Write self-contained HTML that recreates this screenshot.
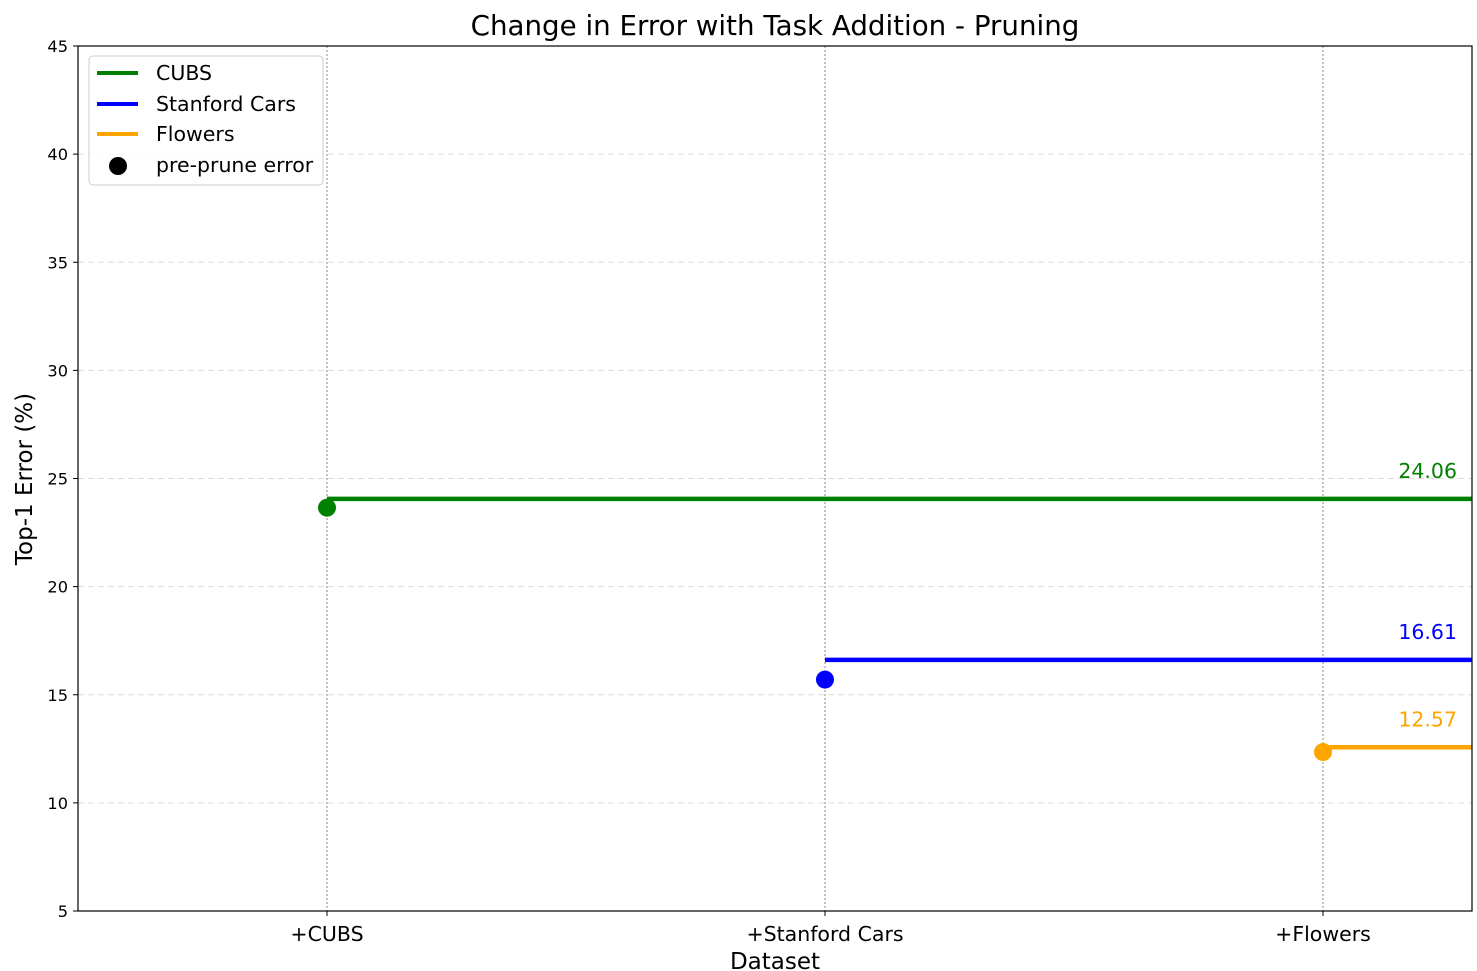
<!DOCTYPE html>
<html><head><meta charset="utf-8"><style>
body{margin:0;background:#fff}
svg{display:block;font-family:"DejaVu Sans","Liberation Sans",sans-serif}
</style></head><body>
<svg id="chart" width="1477" height="971">
<g id="grid"></g>
<g id="marks"></g>
<g id="axes"></g>
<text x="775" y="35" font-size="27.7" text-anchor="middle">Change in Error with Task Addition - Pruning</text>
<text x="775" y="969" font-size="23" text-anchor="middle">Dataset</text>
<text transform="translate(32,479) rotate(-90)" font-size="23" text-anchor="middle">Top-1 Error (%)</text>
<g>
<rect x="89" y="56" width="234" height="129" rx="4" fill="#fff" fill-opacity="0.8" stroke="#ccc"/>
<g><line x1="97" y1="73" x2="138" y2="73" stroke="green" stroke-width="4"/><text x="156" y="80" font-size="20.5">CUBS</text></g>
<g><line x1="97" y1="104" x2="138" y2="104" stroke="blue" stroke-width="4"/><text x="156" y="111" font-size="20.5">Stanford Cars</text></g>
<g><line x1="97" y1="134" x2="138" y2="134" stroke="orange" stroke-width="4"/><text x="156" y="141" font-size="20.5">Flowers</text></g>
<g><circle cx="118" cy="166" r="9" fill="#000"/><text x="156" y="172" font-size="20.5">pre-prune error</text></g>
</g>
</svg>
<script>
const categories=["+CUBS","+Stanford Cars","+Flowers"];
const finalErrors=[24.06,16.61,12.57];
const preErrors=[23.65,15.7,12.35];
const colors=["green","blue","orange"];
const yTicks=[5,10,15,20,25,30,35,40,45];
const L=78,R=1472,T=46,B=911;
const xS=i=>327+i*498;
const yS=v=>B-(v-5)*(B-T)/40;
const NS="http://www.w3.org/2000/svg";
function mk(p,t,a){const e=document.createElementNS(NS,t);for(const k in a)e.setAttribute(k,a[k]);p.appendChild(e);return e;}
const grid=document.getElementById('grid'),marks=document.getElementById('marks'),axes=document.getElementById('axes');
yTicks.forEach(v=>{
 const g=mk(grid,'line',{x1:L,x2:R,y1:yS(v),y2:yS(v),stroke:'#ddd','stroke-dasharray':'6,4','stroke-width':1});
 
 
 mk(axes,'line',{x1:L-5,x2:L,y1:yS(v),y2:yS(v),stroke:'#000'});
 const t=mk(axes,'text',{x:L-10,y:yS(v)+6,'font-size':16.2,'text-anchor':'end'});t.textContent=v;
 
 
});
categories.forEach((c,i)=>{
 const g=mk(grid,'line',{x1:xS(i),x2:xS(i),y1:T,y2:B,stroke:'#888','stroke-dasharray':'2,2','stroke-width':1});
 
 
 mk(axes,'line',{x1:xS(i),x2:xS(i),y1:B,y2:B+5,stroke:'#000'});
 const t=mk(axes,'text',{x:xS(i),y:B+30,'font-size':20.5,'text-anchor':'middle'});t.textContent=c;
 
 
 const ln=mk(marks,'line',{x1:xS(i),x2:R,y1:yS(finalErrors[i]),y2:yS(finalErrors[i]),stroke:colors[i],'stroke-width':4.5});
 
 
 const d=mk(marks,'circle',{cx:xS(i),cy:yS(preErrors[i]),r:9,fill:colors[i]});
 
 
 const lb=mk(marks,'text',{x:1457,y:yS(finalErrors[i])-21,'font-size':20.5,'text-anchor':'end',fill:colors[i]});
 lb.textContent=finalErrors[i].toFixed(2);
 
 
});
mk(axes,'rect',{x:L,y:T,width:R-L,height:B-T,fill:'none',stroke:'#000','stroke-width':1.2});
</script>
</body></html>
